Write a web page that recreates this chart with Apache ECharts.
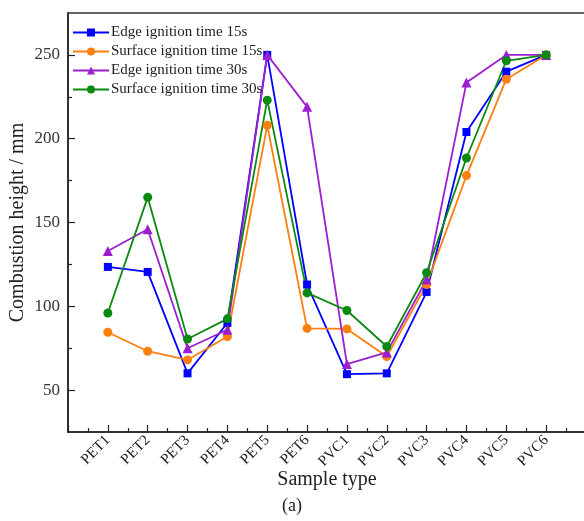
<!DOCTYPE html>
<html>
<head>
<meta charset="utf-8">
<script src="https://cdn.jsdelivr.net/npm/echarts@6/dist/echarts.min.js"></script>
<style>html,body{margin:0;padding:0;background:#fff}#c{width:584px;height:521px}</style>
</head>
<body>
<div id="c"></div>
<script>
var categories = ['PET1','PET2','PET3','PET4','PET5','PET6','PVC1','PVC2','PVC3','PVC4','PVC5','PVC6'];
var edge15 = [123.5, 120.5, 60, 90, 250, 113, 59.5, 60, 108.5, 204, 240, 250];
var surface15 = [84.5, 73.2, 68, 82, 208, 86.8, 86.5, 70, 113, 178, 235.5, 250];
var edge30 = [133, 146, 75, 86, 250, 219, 65.5, 72.5, 116, 233.5, 250, 250];
var surface30 = [96, 165, 80.5, 92.5, 223, 108, 97.5, 76, 120, 188.5, 246.5, 250];
var yTicks = [50, 100, 150, 200, 250];
var yMinorTicks = [75, 125, 175, 225];
var seriesNames = ['Edge ignition time 15s','Surface ignition time 15s','Edge ignition time 30s','Surface ignition time 30s'];

function pts(arr){ return arr.map(function(v,i){ return [i+1, v]; }); }
var FONT = '"Liberation Serif", "Times New Roman", serif';

var chart = echarts.init(document.getElementById('c'), null, {renderer:'canvas'});
function mk(name, data, color, symbol, size){
  return {name:name, type:'line', data:pts(data), symbol:symbol, symbolSize:size,
    lineStyle:{color:color, width:1.8}, itemStyle:{color:color}, z:3};
}
chart.setOption({
  animation:false,
  textStyle:{fontFamily:FONT},
  grid:{left:68, top:13, width:518, height:419, show:true, borderColor:'#666', borderWidth:2,
    outerBoundsMode:'none', containLabel:false},
  title:{text:'(a)', left:'center', top:492, textStyle:{fontFamily:FONT, fontSize:18, fontWeight:'normal', color:'#222'}},
  legend:{orient:'vertical', left:67, top:20, itemWidth:36, itemHeight:10, itemGap:4,
    textStyle:{fontFamily:FONT, fontSize:15, color:'#222', lineHeight:14, padding:[0,0,0,-3]},
    data:seriesNames},
  xAxis:{type:'value', min:0, max:13, interval:1,
    name:'Sample type', nameLocation:'middle', nameGap:38, nameMoveOverlap:false,
    nameTextStyle:{fontFamily:FONT, fontSize:20, color:'#222'},
    axisLine:{show:true, lineStyle:{color:'#222', width:1.5}},
    axisTick:{show:true, inside:true, length:7, lineStyle:{color:'#222', width:1.2}},
    minorTick:{show:true, splitNumber:2, length:4, lineStyle:{color:'#222', width:1.2}},
    splitLine:{show:false},
    axisLabel:{rotate:45, fontFamily:FONT, fontSize:15, color:'#222', margin:6,
      formatter:function(v){ return (v>=1 && v<=categories.length) ? categories[v-1] : ''; }}
  },
  yAxis:[{type:'value', min:25, max:275,
    name:'Combustion height / mm', nameLocation:'middle', nameGap:40, nameMoveOverlap:false,
    nameTextStyle:{fontFamily:FONT, fontSize:20, color:'#222'},
    axisLine:{show:true, lineStyle:{color:'#222', width:1.5}},
    axisTick:{show:true, inside:true, length:7, customValues:yTicks, lineStyle:{color:'#222', width:1.2}},
    splitLine:{show:false},
    axisLabel:{customValues:yTicks, fontFamily:FONT, fontSize:17, color:'#333', margin:8}
  },{type:'value', min:25, max:275, position:'left',
    axisLine:{show:false},
    axisTick:{show:true, inside:true, length:4, customValues:yMinorTicks, lineStyle:{color:'#222', width:1.2}},
    axisLabel:{show:false}, splitLine:{show:false}
  }],
  series:[
    mk(seriesNames[0], edge15, '#0000ff', 'rect', 8),
    mk(seriesNames[1], surface15, '#ff7f0e', 'circle', 9),
    mk(seriesNames[2], edge30, '#9b1fd0', 'triangle', 10),
    mk(seriesNames[3], surface30, '#0a8a10', 'circle', 9)
  ]
});
</script>
</body>
</html>
